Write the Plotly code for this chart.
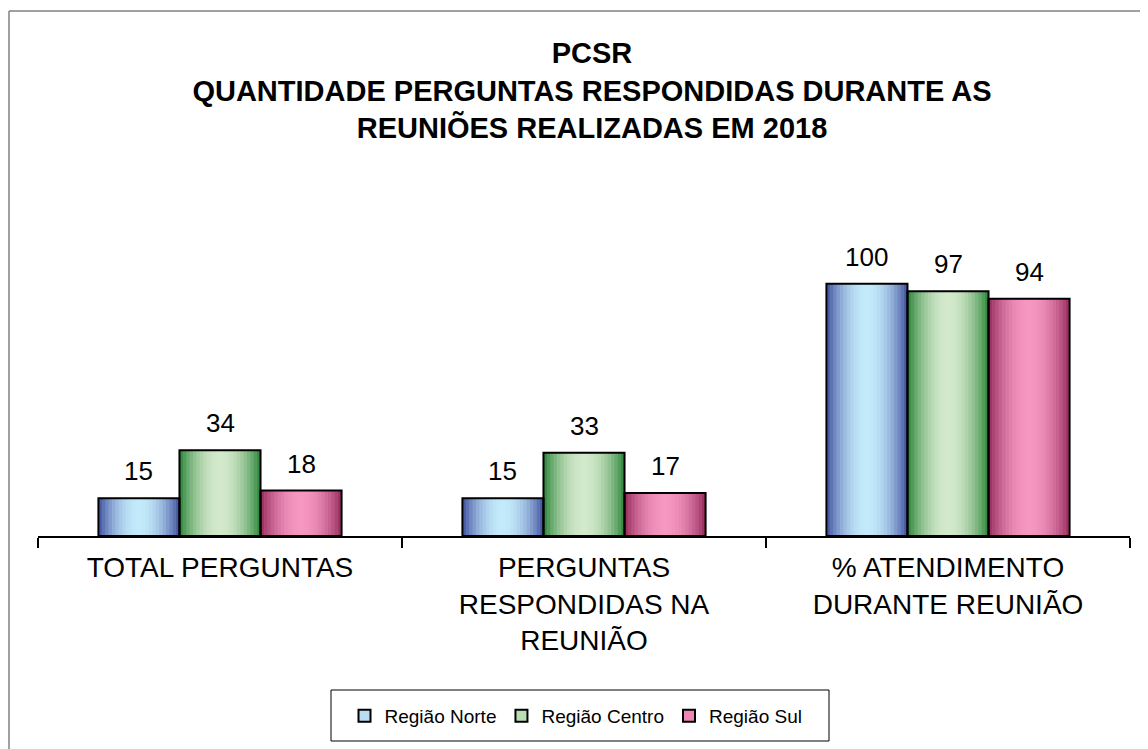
"""Grouped bar chart: PCSR questions answered during 2018 meetings."""

import plotly.graph_objects as go

CATEGORIES = [
    "TOTAL PERGUNTAS",
    "PERGUNTAS<br>RESPONDIDAS NA<br>REUNIÃO",
    "% ATENDIMENTO<br>DURANTE REUNIÃO",
]
SERIES = ["Região Norte", "Região Centro", "Região Sul"]
NORTE = [15, 15, 100]
CENTRO = [34, 33, 97]
SUL = [18, 17, 94]

# Excel-like "metal" gradient: dark edges, light centre
DARK = ["#3f4f9f", "#2a8438", "#962a5d"]
LIGHT = ["#c3eafa", "#d2e9ca", "#f597c1"]
LEGEND_FILL = ["#b9def4", "#b8deb2", "#f086b6"]

FONT = "Liberation Sans, Arial, sans-serif"
GROUP_SPAN = 0.668
N_STRIPS = 24

# the browser puts an 8px body margin around the figure
OFFSET = 8
W, H = 1148 - OFFSET, 749 - OFFSET
# plot area, in page pixels as measured on the reference
PL, PR, PT, PB = 38, 1130, 160, 536


def hex_rgb(c):
    c = c.lstrip("#")
    return [int(c[i:i + 2], 16) for i in (0, 2, 4)]


def mix(c1, c2, s):
    a, b = hex_rgb(c1), hex_rgb(c2)
    r = [round(a[i] + (b[i] - a[i]) * s) for i in range(3)]
    return f"rgb({r[0]},{r[1]},{r[2]})"


def shade(t):
    return 1 - abs(2 * t - 1) ** 2


def px_x(x):
    return (x - PL) / (PR - PL)


def px_y(y):
    return (PB - y) / (PB - PT)


values = [NORTE, CENTRO, SUL]
bar_w = GROUP_SPAN / len(SERIES)
step = bar_w / N_STRIPS

fig = go.Figure()

# gradient strips
for k, vals in enumerate(values):
    left = -GROUP_SPAN / 2 + k * bar_w
    for i in range(N_STRIPS):
        off = left + i * step
        fig.add_trace(
            go.Bar(
                x=CATEGORIES,
                y=vals,
                offset=off,
                width=min(step * 1.6, left + bar_w - off),
                marker=dict(color=mix(DARK[k], LIGHT[k], shade((i + 0.5) / N_STRIPS)), line=dict(width=0)),
                showlegend=False,
                hoverinfo="skip",
            )
        )

# black outlines on top
for k, vals in enumerate(values):
    left = -GROUP_SPAN / 2 + k * bar_w
    fig.add_trace(
        go.Bar(
            x=CATEGORIES,
            y=vals,
            offset=left,
            width=bar_w,
            name=SERIES[k],
            marker=dict(color="rgba(0,0,0,0)", line=dict(color="black", width=2)),
            showlegend=False,
        )
    )

# legend entries
for k, name in enumerate(SERIES):
    fig.add_trace(
        go.Bar(
            x=[CATEGORIES[0]],
            y=[None],
            name=name,
            marker=dict(color=LEGEND_FILL[k], line=dict(color="black", width=2)),
        )
    )

# value labels
for k, vals in enumerate(values):
    centre = -GROUP_SPAN / 2 + (k + 0.5) * bar_w
    for i, v in enumerate(vals):
        fig.add_annotation(
            x=i + centre,
            y=v,
            text=str(v),
            showarrow=False,
            yanchor="bottom",
            yshift=10,
            font=dict(family=FONT, size=26, color="black"),
        )

# chart frame and legend box
fig.add_shape(type="line", xref="paper", yref="paper",
              x0=px_x(9), x1=px_x(9), y0=px_y(11), y1=px_y(780),
              line=dict(color="#808080", width=1.5))
fig.add_shape(type="line", xref="paper", yref="paper",
              x0=px_x(9), x1=px_x(1180), y0=px_y(11), y1=px_y(11),
              line=dict(color="#808080", width=1.5))
fig.add_shape(type="rect", xref="paper", yref="paper",
              x0=px_x(331), x1=px_x(829), y0=px_y(741), y1=px_y(690),
              line=dict(color="black", width=1))

fig.update_layout(
    width=W,
    height=H,
    barmode="overlay",
    paper_bgcolor="white",
    plot_bgcolor="white",
    margin=dict(l=PL - OFFSET, r=W - (PR - OFFSET), t=PT - OFFSET, b=H - (PB - OFFSET)),
    title=dict(
        text="PCSR<br>QUANTIDADE PERGUNTAS RESPONDIDAS DURANTE AS<br>REUNIÕES REALIZADAS EM 2018",
        x=(592 - OFFSET) / W,
        xanchor="center",
        xref="container",
        y=1 - (63 - OFFSET) / H,
        yanchor="top",
        yref="container",
        font=dict(family=FONT, size=29, color="black", weight="bold"),
    ),
    xaxis=dict(
        showline=True,
        linecolor="black",
        linewidth=1.5,
        ticks="outside",
        tickson="boundaries",
        ticklen=10,
        tickcolor="black",
        tickwidth=1.5,
        ticklabelstandoff=6,
        tickfont=dict(family=FONT, size=28, color="black"),
        showgrid=False,
    ),
    yaxis=dict(visible=False, range=[0, 149]),
    legend=dict(
        orientation="h",
        x=px_x(576),
        xanchor="center",
        y=px_y(716),
        yanchor="middle",
        font=dict(family=FONT, size=19, color="black"),
        bgcolor="rgba(0,0,0,0)",
    ),
    showlegend=True,
)

fig.write_html("out.html")
